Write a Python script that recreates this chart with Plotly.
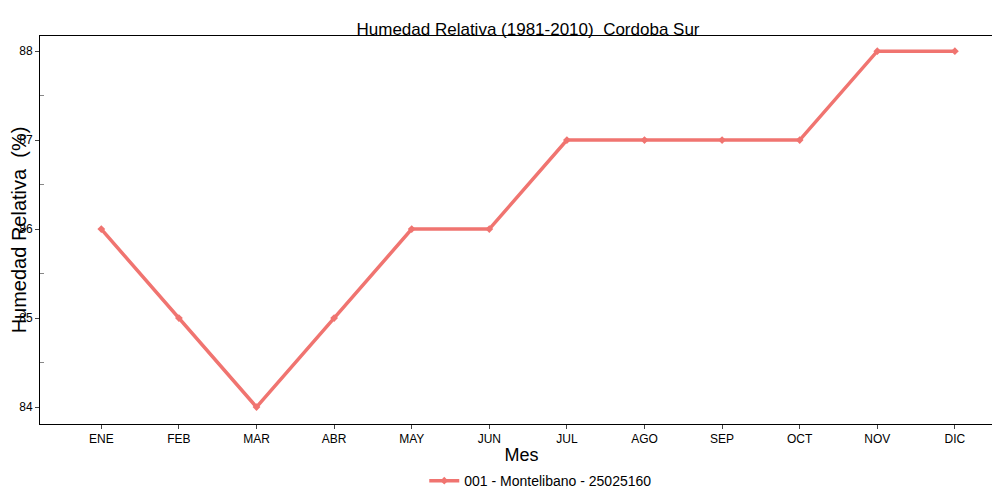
import plotly.graph_objects as go

meses = ["ENE", "FEB", "MAR", "ABR", "MAY", "JUN", "JUL", "AGO", "SEP", "OCT", "NOV", "DIC"]
humedad = [86, 85, 84, 85, 86, 86, 87, 87, 87, 87, 88, 88]
serie = "001 - Montelibano - 25025160"

fig = go.Figure()
fig.add_trace(go.Scatter(
    x=list(range(len(meses))), y=humedad, mode="lines+markers", name=serie,
    line=dict(color="#F07470", width=3.5),
    marker=dict(color="#F07470", size=6, symbol="diamond"),
))
fig.update_layout(
    width=1000, height=500, plot_bgcolor="white", paper_bgcolor="white",
    font=dict(family="Arial, Liberation Sans", color="black"),
    title=dict(text="Humedad Relativa (1981-2010)  Cordoba Sur", x=0.52, y=0.97,
               xanchor="center", font=dict(size=17)),
    margin=dict(l=32, r=5, t=28, b=84, autoexpand=False),
    showlegend=True,
    legend=dict(orientation="h", x=0.52, xanchor="center", y=-0.147, yanchor="middle",
                font=dict(size=14)),
)
fig.update_xaxes(
    tickmode="array", tickvals=list(range(12)), ticktext=meses, range=[-0.79, 11.62],
    showline=True, linecolor="black", mirror=True, showgrid=False, zeroline=False,
    ticks="outside", ticklen=4, tickfont=dict(size=12), automargin=False,
    title=dict(text="Mes", font=dict(size=18), standoff=2),
)
fig.update_yaxes(
    range=[83.81, 88.17], tickvals=[84, 85, 86, 87, 88],
    showline=True, linecolor="black", mirror=True, showgrid=False, zeroline=False,
    ticks="outside", ticklen=4, tickfont=dict(size=12), automargin=False,
    minor=dict(tickvals=[84.5, 85.5, 86.5, 87.5], ticks="inside", ticklen=4, tickcolor="#888"),
    title=dict(text="Humedad Relativa  (%)", font=dict(size=20), standoff=2),
)
fig.write_html("out.html")
